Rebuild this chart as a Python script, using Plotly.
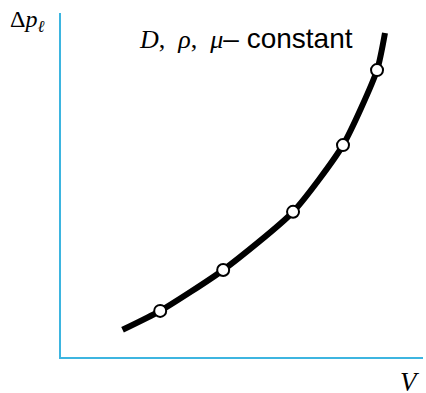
import plotly.graph_objects as go

# curve, arbitrary units
curve_v = [1.7, 2.74, 4.48, 6.41, 7.79, 8.73, 8.95]
curve_dp = [0.79, 1.34, 2.53, 4.22, 6.16, 8.34, 9.42]
# measured points
pts_v = [2.74, 4.48, 6.41, 7.79, 8.73]
pts_dp = [1.34, 2.53, 4.22, 6.16, 8.34]

axis_color = "#3db5e0"

W, H = 426, 393
L, R, T, B = 61, 3, 13, 36
PW, PH = W - L - R, H - T - B


def fx(sx):
    return (sx - L) / PW


def fy(sy):
    return 1 - (sy - T) / PH


fig = go.Figure()
fig.add_trace(go.Scatter(x=curve_v, y=curve_dp, mode="lines",
                         line=dict(color="black", width=6, shape="spline", smoothing=0.6),
                         hoverinfo="skip"))
fig.add_trace(go.Scatter(x=pts_v, y=pts_dp, mode="markers",
                         marker=dict(size=12, color="white",
                                     line=dict(color="black", width=2)),
                         hoverinfo="skip"))

label = ("<i>D</i>,&nbsp; <i>ρ</i>,&nbsp; <i>μ</i>"
         "<span style='font-family:Liberation Sans;font-size:28px'>– constant</span>")

fig.update_layout(
    width=W, height=H,
    margin=dict(l=L, r=R, t=T, b=B),
    plot_bgcolor="white", paper_bgcolor="white",
    showlegend=False,
    xaxis=dict(range=[0, 10], showgrid=False, zeroline=False, showticklabels=False,
               ticks="", showline=True, linecolor=axis_color, linewidth=2, mirror=False),
    yaxis=dict(range=[0, 10], showgrid=False, zeroline=False, showticklabels=False,
               ticks="", showline=True, linecolor=axis_color, linewidth=2, mirror=False),
    annotations=[
        dict(text="Δ<i>p</i><sub><i>ℓ</i></sub>", xref="paper", yref="paper",
             x=fx(8), y=fy(21), xanchor="left", yanchor="middle", showarrow=False,
             font=dict(family="Liberation Serif", size=24, color="black")),
        dict(text=label, xref="paper", yref="paper",
             x=fx(137), y=fy(38), xanchor="left", yanchor="middle",
             showarrow=False, font=dict(family="Liberation Serif", size=26, color="black")),
        dict(text="<i>V</i>", xref="paper", yref="paper", x=fx(410), y=fy(382),
             xanchor="center", yanchor="middle", showarrow=False,
             font=dict(family="Liberation Serif", size=27, color="black")),
    ],
)

fig.write_html("out.html", config={"displayModeBar": False},
               post_script="document.body.style.margin='0';")
